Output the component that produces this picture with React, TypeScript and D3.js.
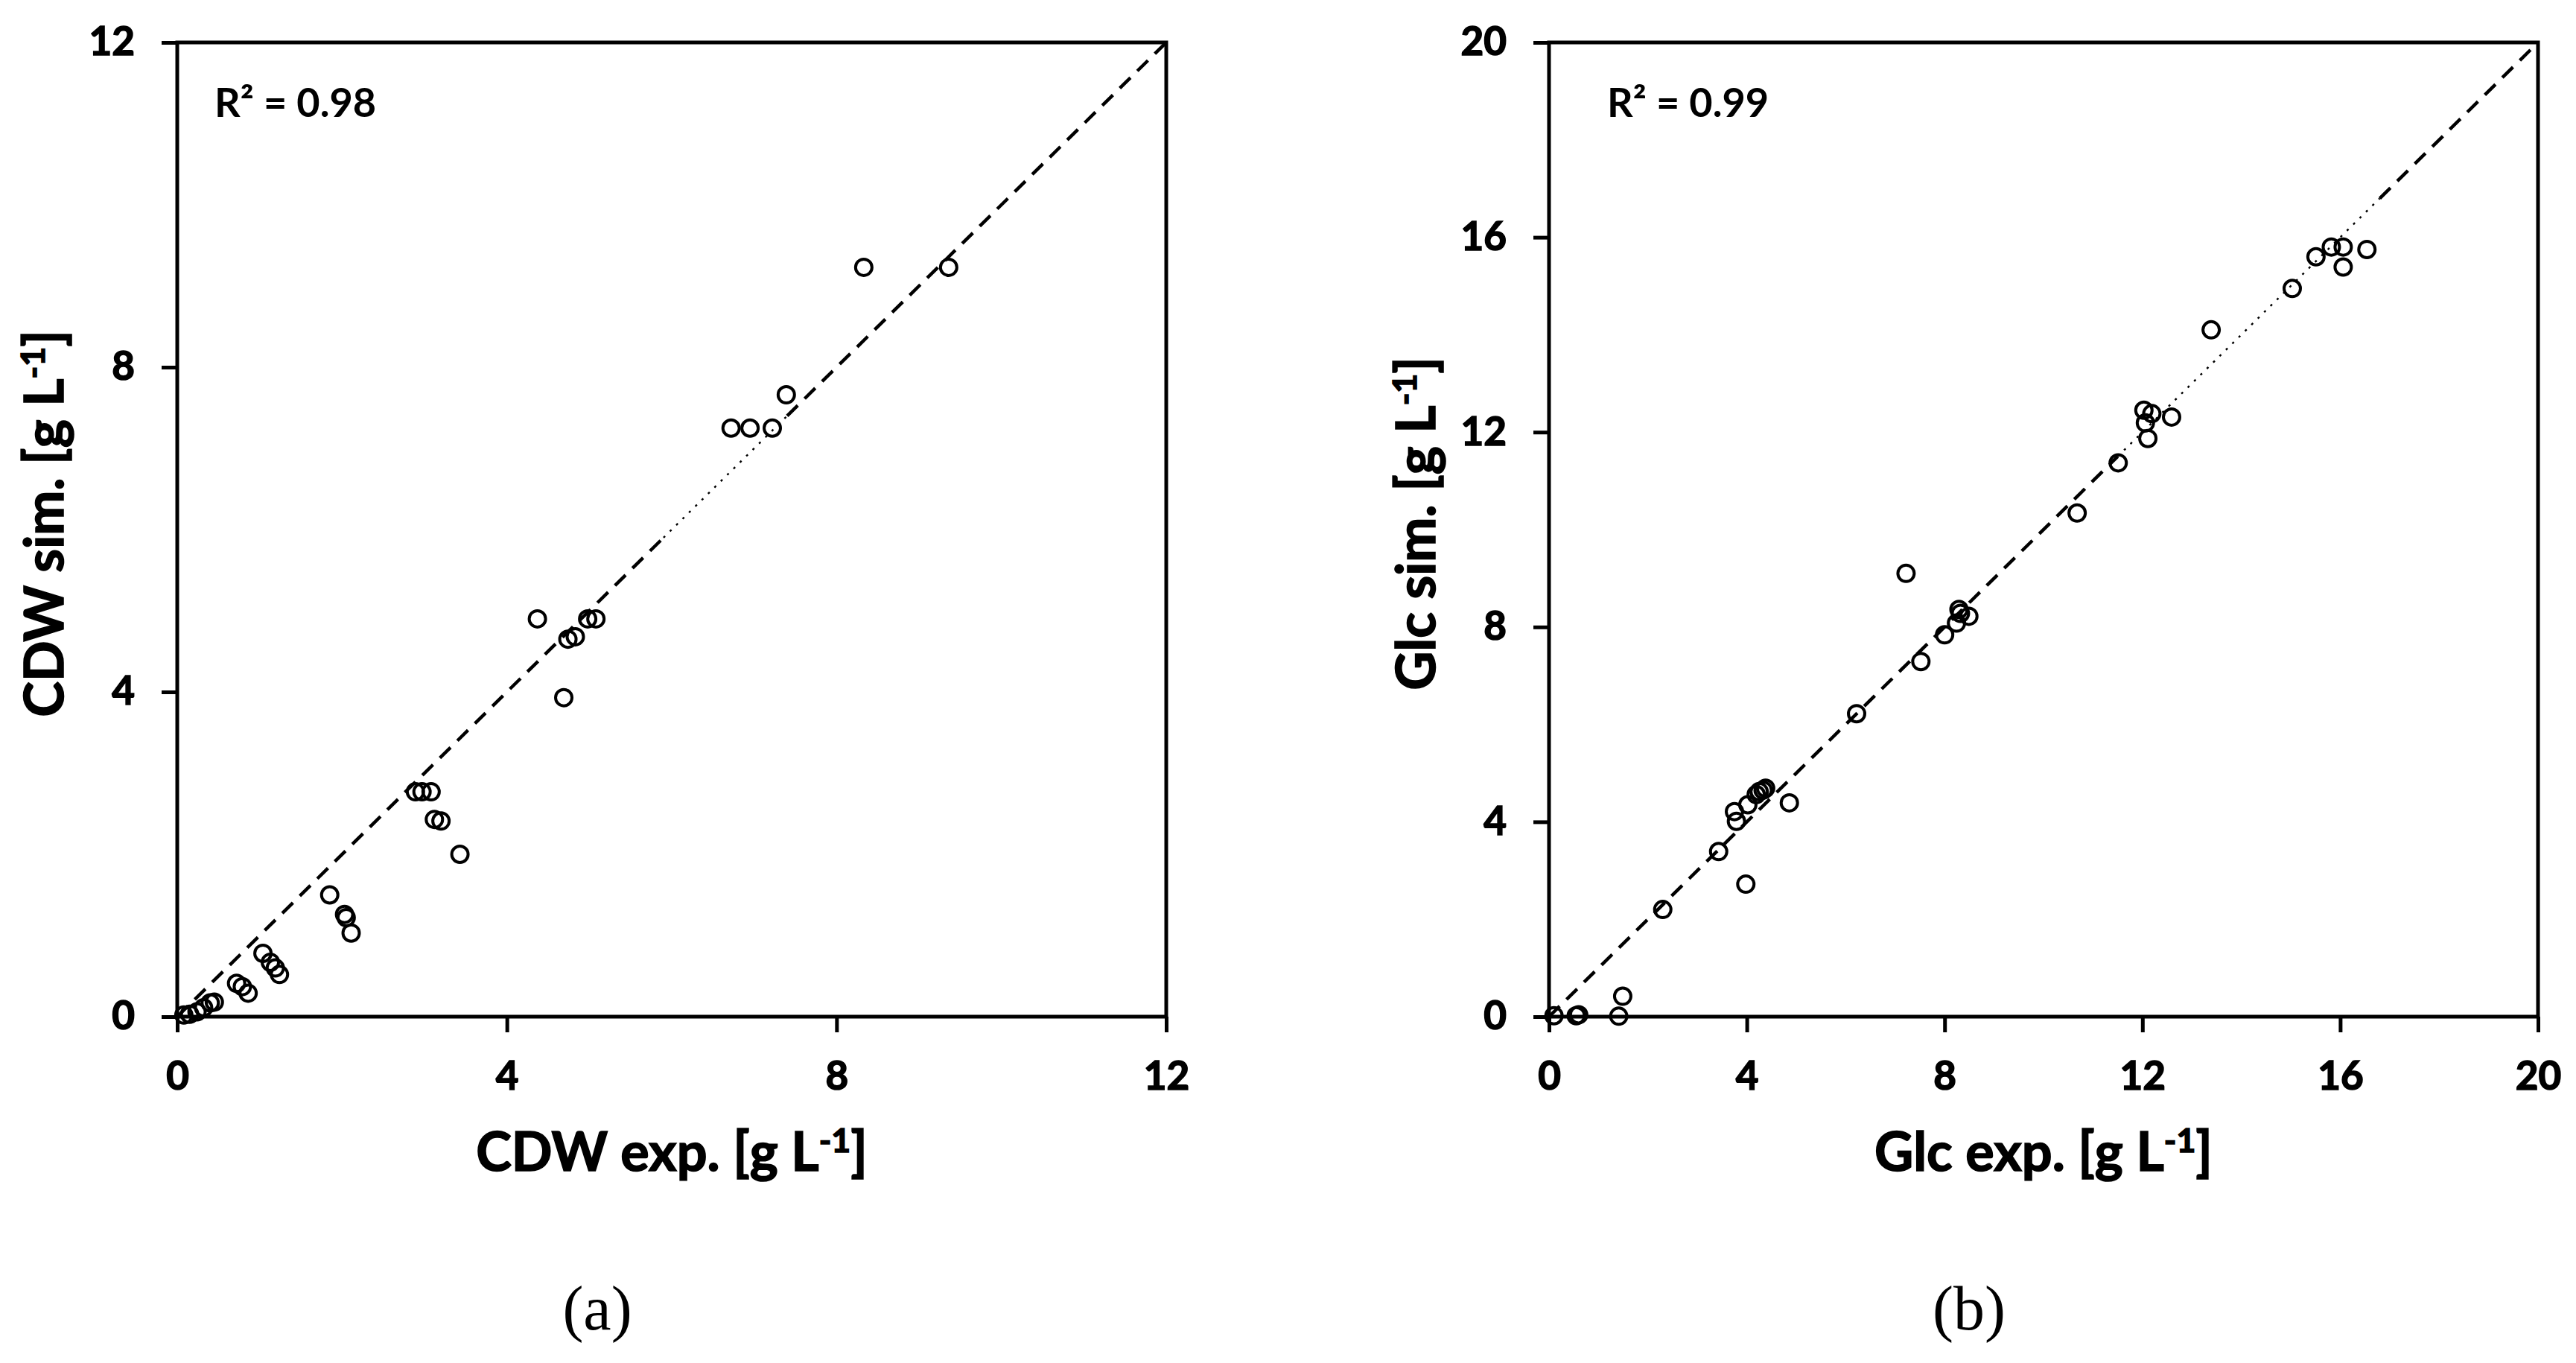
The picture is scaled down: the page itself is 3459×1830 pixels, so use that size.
import React from 'react';
import * as d3 from 'd3';

// panel (a): cell dry weight, experimental vs simulated [g/L]
const cdwExp = [8.33, 9.36, 7.39, 6.72, 6.95, 7.22, 4.37, 4.74, 4.83, 4.98, 5.08, 4.69,
    2.89, 2.97, 3.08, 3.12, 3.2, 3.43, 1.85, 2.03, 2.05, 2.11, 1.04, 1.13, 1.19, 1.24,
    0.72, 0.79, 0.86, 0.45, 0.4, 0.32, 0.24, 0.15, 0.08];
const cdwSim = [9.23, 9.23, 7.66, 7.25, 7.25, 7.25, 4.9, 4.65, 4.68, 4.9, 4.9, 3.93,
    2.77, 2.77, 2.77, 2.43, 2.41, 2.0, 1.5, 1.26, 1.22, 1.03, 0.78, 0.67, 0.6, 0.52,
    0.41, 0.37, 0.29, 0.18, 0.17, 0.11, 0.06, 0.03, 0.02];

// panel (b): glucose, experimental vs simulated [g/L]
const glcExp = [16.54, 16.06, 16.06, 15.82, 15.51, 15.03, 13.39, 12.03, 12.19, 12.06, 12.11,
    12.59, 11.51, 10.68, 7.22, 8.29, 8.32, 8.49, 8.24, 8.0, 7.52, 6.22, 4.86, 4.33, 4.25,
    4.19, 4.38, 4.02, 3.75, 3.79, 3.43, 3.98, 2.3, 1.49, 1.41, 0.6, 0.55, 0.1];
const glcSim = [15.75, 15.39, 15.8, 15.8, 15.6, 14.95, 14.1, 12.45, 12.38, 12.19, 11.87,
    12.31, 11.37, 10.34, 9.1, 8.36, 8.28, 8.22, 8.08, 7.84, 7.29, 6.22, 4.39, 4.65, 4.62,
    4.56, 4.69, 4.35, 4.21, 4.01, 3.39, 2.72, 2.2, 0.42, 0.01, 0.04, 0.02, 0.02];

const cdwTicks = [0, 4, 8, 12];
const glcTicks = [0, 4, 8, 12, 16, 20];

// parts of the 1:1 line that show as bold dashes (the gaps between them are finely dotted)
const cdwDashed = [[0, 5.9], [7.4, 12]];
const glcDashed = [[0, 11.5], [16.8, 20]];

const WIDTH = 3459;
const HEIGHT = 1830;
const FONT = 'Lato, "Open Sans", sans-serif';

const panels = [
    { id: 'a', exp: cdwExp, sim: cdwSim, ticks: cdwTicks, max: 12, name: 'CDW', r2: 'R² = 0.98', dashed: cdwDashed, left: 238, r2Dx: 50 },
    { id: 'b', exp: glcExp, sim: glcSim, ticks: glcTicks, max: 20, name: 'Glc', r2: 'R² = 0.99', dashed: glcDashed, left: 2080, r2Dx: 78 },
];

const top = 57;
const plotW = 1328;
const plotH = 1308;

function addUnitTitle(sel, name, kind) {
    sel.append('tspan').text(`${name} ${kind}. [g L`);
    sel.append('tspan').attr('font-size', '0.62em').attr('dy', '-0.55em').text('-1');
    sel.append('tspan').attr('dy', '0.34em').text(']');
}

function Panel({ cfg }) {
    const ref = React.useRef(null);

    React.useEffect(() => {
        const g = d3.select(ref.current);
        g.selectAll('*').remove();

        const x = d3.scaleLinear().domain([0, cfg.max]).range([cfg.left, cfg.left + plotW]);
        const y = d3.scaleLinear().domain([0, cfg.max]).range([top + plotH, top]);

        // 1:1 line, fine dotted stretches between the dashed parts
        const dotted = cfg.dashed.slice(1).map((d, i) => [cfg.dashed[i][1], d[0]]);
        g.selectAll('line.dot')
            .data(dotted)
            .enter()
            .append('line')
            .attr('class', 'dot')
            .attr('x1', d => x(d[0])).attr('y1', d => y(d[0]))
            .attr('x2', d => x(d[1])).attr('y2', d => y(d[1]))
            .attr('stroke', '#000')
            .attr('stroke-width', 2.5)
            .attr('stroke-dasharray', '3 9');

        // 1:1 line, dashed parts
        g.selectAll('line.dash')
            .data(cfg.dashed)
            .enter()
            .append('line')
            .attr('class', 'dash')
            .attr('x1', d => x(d[0])).attr('y1', d => y(d[0]))
            .attr('x2', d => x(d[1])).attr('y2', d => y(d[1]))
            .attr('stroke', '#000')
            .attr('stroke-width', 4.5)
            .attr('stroke-dasharray', '20 13');

        // points
        g.selectAll('circle')
            .data(cfg.exp.map((e, i) => [e, cfg.sim[i]]))
            .enter()
            .append('circle')
            .attr('cx', d => x(d[0]))
            .attr('cy', d => y(d[1]))
            .attr('r', 11)
            .attr('fill', 'none')
            .attr('stroke', '#000')
            .attr('stroke-width', 4);

        // frame
        g.append('rect')
            .attr('x', x(0)).attr('y', y(cfg.max))
            .attr('width', plotW).attr('height', plotH)
            .attr('fill', 'none')
            .attr('stroke', '#000')
            .attr('stroke-width', 5);

        // axes
        const xAxis = d3.axisBottom(x).tickValues(cfg.ticks).tickSize(21).tickSizeOuter(0).tickPadding(39).tickFormat(d3.format('d'));
        const yAxis = d3.axisLeft(y).tickValues(cfg.ticks).tickSize(21).tickSizeOuter(0).tickPadding(36).tickFormat(d3.format('d'));

        const gx = g.append('g').attr('transform', `translate(0,${y(0)})`).call(xAxis);
        const gy = g.append('g').attr('transform', `translate(${x(0)},0)`).call(yAxis);
        [gx, gy].forEach(a => {
            a.select('.domain').remove();
            a.selectAll('.tick line').attr('stroke', '#000').attr('stroke-width', 5);
            a.selectAll('.tick text')
                .attr('fill', '#000')
                .attr('stroke', '#000')
                .attr('stroke-width', 1.6)
                .attr('font-family', FONT)
                .attr('font-weight', 700)
                .attr('font-size', 53);
        });

        // R² label
        g.append('text')
            .attr('x', x(0) + cfg.r2Dx)
            .attr('y', 157)
            .attr('font-family', FONT)
            .attr('font-size', 54)
            .attr('font-weight', 700)
            .text(cfg.r2);

        // axis titles
        const tx = g.append('text')
            .attr('x', cfg.left + plotW / 2)
            .attr('y', 1572)
            .attr('text-anchor', 'middle')
            .attr('font-family', FONT)
            .attr('font-weight', 700)
            .attr('stroke', '#000')
            .attr('stroke-width', 1.6)
            .attr('font-size', 72);
        addUnitTitle(tx, cfg.name, 'exp');

        const ty = g.append('text')
            .attr('transform', `translate(${cfg.left - 153},${top + plotH / 2 - 8}) rotate(-90)`)
            .attr('text-anchor', 'middle')
            .attr('font-family', FONT)
            .attr('font-weight', 700)
            .attr('stroke', '#000')
            .attr('stroke-width', 1.6)
            .attr('font-size', 72);
        addUnitTitle(ty, cfg.name, 'sim');

        // caption
        g.append('text')
            .attr('x', cfg.left + plotW / 2 - 100)
            .attr('y', 1785)
            .attr('text-anchor', 'middle')
            .attr('font-family', '"Liberation Serif", "DejaVu Serif", serif')
            .attr('font-size', 84)
            .text(`(${cfg.id})`);
    }, [cfg]);

    return <g ref={ref} />;
}

export default function App() {
    return (
        <svg
            width={WIDTH}
            height={HEIGHT}
            style={{ position: 'absolute', left: 0, top: 0, background: '#fff' }}
        >
            <rect width={WIDTH} height={HEIGHT} fill="#fff" />
            {panels.map(p => <Panel key={p.id} cfg={p} />)}
        </svg>
    );
}
